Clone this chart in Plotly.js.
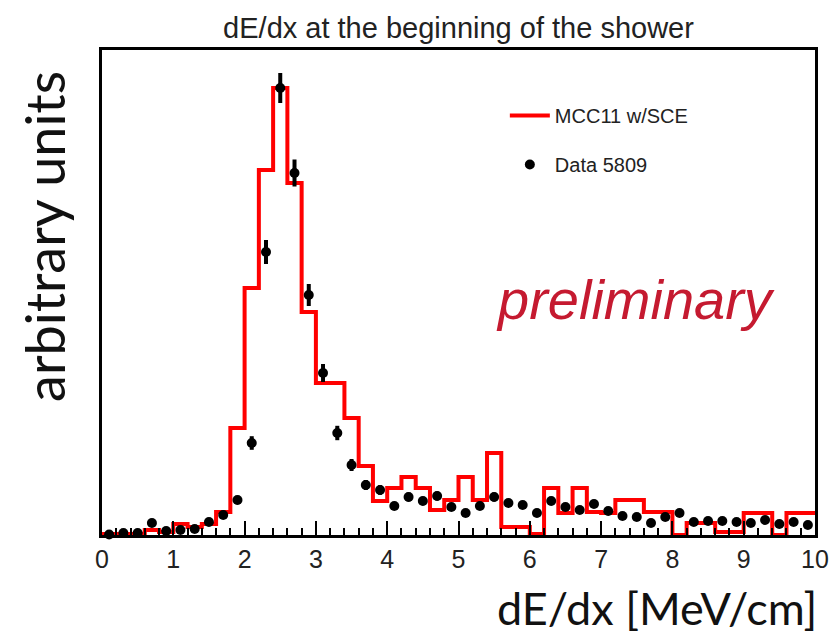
<!DOCTYPE html>
<html>
<head>
<meta charset="utf-8">
<script src="https://cdn.plot.ly/plotly-3.0.1.min.js"></script>
<style>html,body{margin:0;padding:0;background:#fff;}</style>
</head>
<body>
<div id="chart" style="width:832px;height:636px;"></div>
<script>
// Data histogram (bin centres, 0.2 wide bins)
const dataX = [0.1,0.3,0.5,0.7,0.9,1.1,1.3,1.5,1.7,1.9,2.1,2.3,2.5,2.7,2.9,3.1,3.3,3.5,3.7,3.9,
               4.1,4.3,4.5,4.7,4.9,5.1,5.3,5.5,5.7,5.9,6.1,6.3,6.5,6.7,6.9,7.1,7.3,7.5,7.7,7.9,
               8.1,8.3,8.5,8.7,8.9,9.1,9.3,9.5,9.7,9.9];
const dataY = [0.5,2,2,12,4,5,6,13,20,35,92,283,447,362,240,162,102,70,50,45,
               29,38,34,39,28,22,29,38,32,30,22,34,28,25,31,24,19,18,12,18,
               22,13,14,14,13,12,15,11,13,10];
const dataErr = [0.5,1,1,2.5,1.5,1.5,1.8,2.6,3.2,4.2,6.8,12,15,13.5,11,9,7.2,6,5,4.8,
                 3.8,4.4,4.1,4.4,3.8,3.3,3.8,4.4,4,3.9,3.3,4.1,3.8,3.5,3.9,3.5,3.1,3,2.5,3,
                 3.3,2.6,2.7,2.7,2.6,2.5,2.7,2.4,2.6,2.2];

// MC histogram (bin low edges + upper edge of last bin)
const mcEdges = [0,0.2,0.4,0.6,0.8,1.0,1.2,1.4,1.6,1.8,2.0,2.2,2.4,2.6,2.8,3.0,3.2,3.4,3.6,3.8,
                 4.0,4.2,4.4,4.6,4.8,5.0,5.2,5.4,5.6,5.8,6.0,6.2,6.4,6.6,6.8,7.0,7.2,7.4,7.6,7.8,
                 8.0,8.2,8.4,8.6,8.8,9.0,9.2,9.4,9.6,9.8,10];
const mcY = [1,1,1,5,3,11,8,11,23,107,247,365,447,352,223,152,152,117,69,34,
             47,58,47,25,35,58,35,82,8,8,1,47,22,47,23,22,35,35,23,23,
             0,12,12,3,3,22,22,0,22,22];

const xTickVals = [0,1,2,3,4,5,6,7,8,9,10];
const xTickText = ['0','1','2','3','4','5','6','7','8','9','10'];

const mcTrace = {
  type: 'scatter', mode: 'lines', name: 'MCC11 w/SCE',
  x: mcEdges, y: mcY.concat([mcY[mcY.length-1]]),
  line: {shape: 'hv', color: 'rgb(255,0,0)', width: 4},
  legendgroup: 'mc'
};
const dataTrace = {
  type: 'scatter', mode: 'markers', name: 'Data 5809',
  x: dataX, y: dataY,
  marker: {color: 'black', size: 10, symbol: 'circle'},
  error_y: {type: 'data', array: dataErr, visible: true, color: 'black', thickness: 4, width: 0},
  cliponaxis: false,
  legendgroup: 'data'
};

const layout = {
  width: 832, height: 636,
  margin: {l: 102, r: 17, t: 50, b: 101},
  paper_bgcolor: 'white', plot_bgcolor: 'white',
  font: {family: 'Liberation Sans, Arial, sans-serif', color: 'black'},
  title: {text: 'dE/dx at the beginning of the shower', font: {size: 29, color: '#222'},
          xref: 'paper', x: 0.5, xanchor: 'center', yref: 'container', y: 0.956, yanchor: 'middle'},
  xaxis: {
    range: [0, 10], tickvals: xTickVals, ticktext: xTickText,
    ticks: 'inside', ticklen: 14, tickwidth: 2, tickcolor: 'black',
    minor: {dtick: 0.2, ticks: 'inside', ticklen: 7, tickwidth: 2, tickcolor: 'black'},
    tickfont: {size: 25, color: '#222'},
    showline: true, linewidth: 3, linecolor: 'black', mirror: true,
    showgrid: false, zeroline: false
  },
  yaxis: {
    range: [0, 485], showticklabels: false, ticks: '',
    showline: true, linewidth: 3, linecolor: 'black', mirror: true,
    showgrid: false, zeroline: false
  },
  showlegend: true,
  legend: {x: 0.565, xanchor: 'left', y: 0.905, yanchor: 'top',
           bgcolor: 'rgba(0,0,0,0)', borderwidth: 0, itemwidth: 40,
           font: {size: 20, color: '#222'}, tracegroupgap: 20},
  annotations: [
    {text: 'dE/dx [MeV/cm]', xref: 'paper', yref: 'paper', x: 1.005, y: -0.15,
     xanchor: 'right', yanchor: 'middle', showarrow: false,
     font: {family: 'Lato, sans-serif', size: 45, color: '#111'}},
    {text: 'arbitrary units', xref: 'paper', yref: 'paper', x: -0.08, y: 0.6165,
     xanchor: 'center', yanchor: 'middle', showarrow: false, textangle: -90,
     font: {family: 'Lato, sans-serif', size: 54, color: '#111'}},
    {text: '<i>preliminary</i>', xref: 'paper', yref: 'paper', x: 0.748, y: 0.485,
     xanchor: 'center', yanchor: 'middle', showarrow: false,
     font: {family: 'Liberation Sans, Arial, sans-serif', size: 56, color: 'rgb(197,26,48)'}}
  ]
};

Plotly.newPlot('chart', [mcTrace, dataTrace], layout, {displayModeBar: false, staticPlot: true});
</script>
</body>
</html>
